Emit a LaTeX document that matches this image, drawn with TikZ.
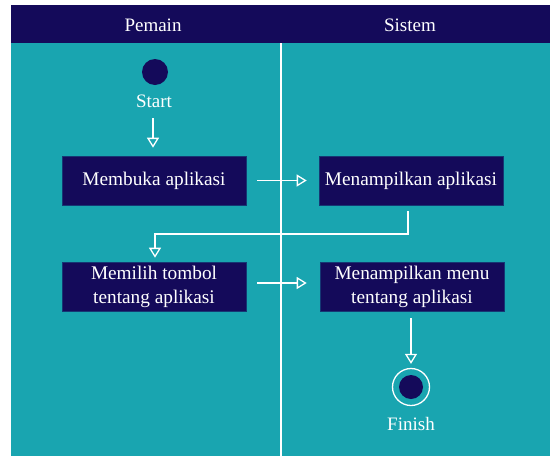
\documentclass[tikz,border=0pt]{standalone}
\usepackage{fontspec}
\setmainfont{Liberation Serif}
\usetikzlibrary{arrows.meta}
\definecolor{navy}{HTML}{140A5A}
\definecolor{lane}{HTML}{19A5B0}
\tikzset{
  actbox/.style={fill=navy, draw=navy!70!lane, line width=0.6pt, text=white,
    minimum width=184pt, minimum height=49pt, align=center, inner sep=2pt,
    font=\fontsize{19.3}{24}\selectfont},
  flow/.style={draw=white, line width=1.3pt,
    -{Triangle[open, length=10pt, width=12pt, fill=lane]}},
  lbl/.style={text=white, font=\fontsize{19}{23}\selectfont},
}
\begin{document}
\begin{tikzpicture}[x=1pt, y=-1pt]
  \useasboundingbox (0,0) rectangle (550,456);
  \fill[white] (0,0) rectangle (550,456);
  % swimlane body and header
  \fill[lane] (11,43) rectangle (550,456);
  \fill[navy] (11,5) rectangle (550,43);
  \draw[white, line width=1.3pt] (281,43) -- (281,456);
  \node[lbl] (h1) at (153,25) {Pemain};
  \node[lbl] (h2) at (410,25) {Sistem};

  % start node
  \node[circle, fill=navy, minimum size=26pt, inner sep=0pt] (start) at (155,72) {};
  \node[lbl] (startlbl) at (154,101) {Start};

  % activities
  \node[actbox] (b1) at (154,180.5) {Membuka aplikasi};
  \node[actbox] (b2) at (411,180.5) {Menampilkan aplikasi};
  \node[actbox] (b3) at (154,286.5) {Memilih tombol\\tentang aplikasi};
  \node[actbox] (b4) at (412,286.5) {Menampilkan menu\\tentang aplikasi};

  % final node
  \node[circle, draw=white, line width=1.3pt, fill=lane, minimum size=37pt, inner sep=0pt] (fin) at (411,387) {};
  \node[circle, fill=navy, minimum size=24pt, inner sep=0pt] (fincore) at (fin.center) {};
  \node[lbl] (finlbl) at (411,424) {Finish};

  % control flow
  \draw[flow] (153,118) -- ([yshift=8pt]b1.north -| 153,0);
  \draw[flow] ([xshift=11pt]b1.east) -- ([xshift=-12pt]b2.west);
  \draw[flow] ([yshift=-6pt]b2.south -| 408,0) |- (155,234) -- ([yshift=4pt]b3.north -| 155,0);
  \draw[flow] ([xshift=11pt]b3.east |- 0,283) -- ([xshift=-13pt]b4.west |- 0,283);
  \draw[flow] ([yshift=-7pt]b4.south -| 411,0) -- ([yshift=4pt]fin.north);
\end{tikzpicture}
\end{document}
